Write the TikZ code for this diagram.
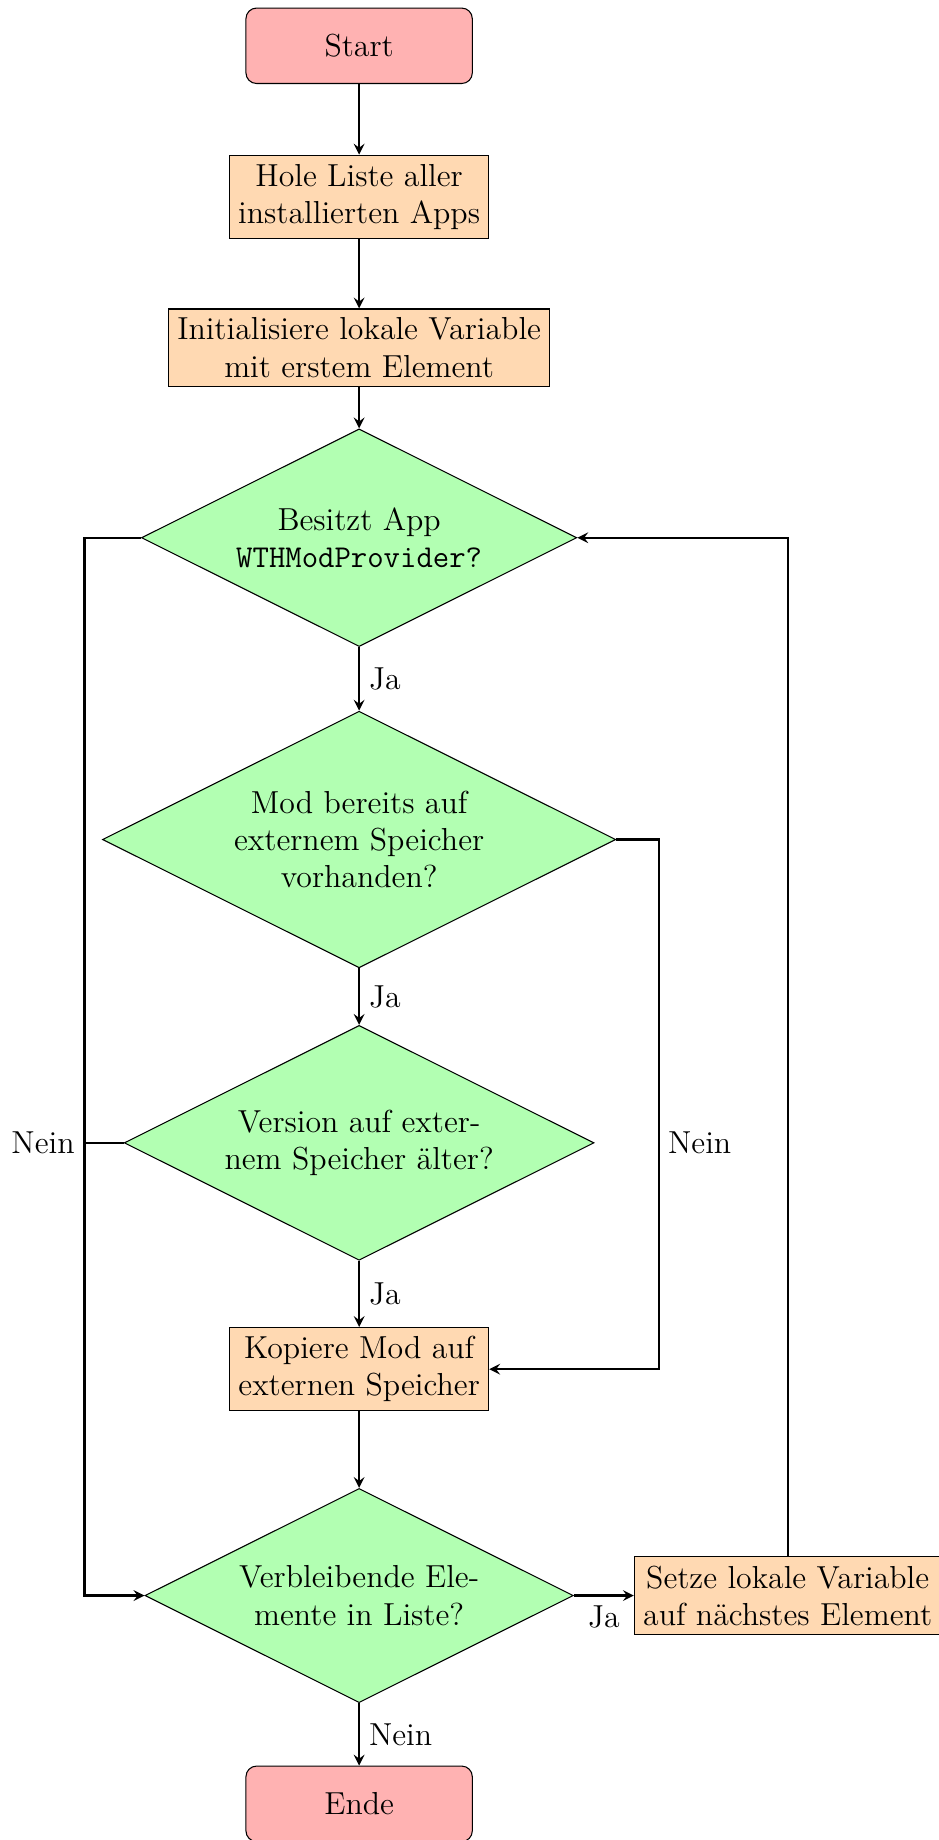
\documentclass[tikz,border=0pt]{standalone}
\usetikzlibrary{shapes.geometric,arrows,positioning,calc}

\tikzset{
  startstop/.style={rectangle, rounded corners, minimum width=3cm, minimum height=1cm, text centered, draw=black, fill=red!30},
  process/.style={rectangle, align=center, draw=black, fill=orange!30},
  decision/.style={diamond, aspect=2, inner sep=4.35pt, align=center, draw=black, fill=green!30},
  arrow/.style={thick,->,>=stealth}
}

\begin{document}
\begin{tikzpicture}[node distance=2cm, font=\large]
  \useasboundingbox (-4.76,0.607) rectangle (7.68,-23.78);
  \node (start) [startstop] {Start};
  \node (liste) [process, below of=start] {Hole Liste aller\\installierten Apps};
  \node (init) [process, below of=liste] {Initialisiere lokale Variable\\mit erstem Element};
  \node (provider) [decision, below of=init, node distance=2.52cm] {Besitzt App\\\texttt{WTHModProvider?}};
  \node (vorhanden) [decision, below of=provider, node distance=4cm] {Mod bereits auf\\externem Speicher\\vorhanden?};
  \node (aelter) [decision, below of=vorhanden, node distance=4.02cm] {Version auf exter-\\nem Speicher älter?};
  \node (kopiere) [process, below of=aelter, node distance=3cm] {Kopiere Mod auf\\externen Speicher};
  \node (rest) [decision, below of=kopiere, node distance=3cm] {Verbleibende Ele-\\mente in Liste?};
  \node (ende) [startstop, below of=rest, node distance=2.76cm] {Ende};
  \node (naechstes) [process, right of=rest, node distance=5.68cm] {Setze lokale Variable\\auf nächstes Element};

  \coordinate (links) at (-3.64,0);
  \coordinate (rechts) at (3.97,0);

  \draw [arrow] (start) -- (liste);
  \draw [arrow] (liste) -- (init);
  \draw [arrow] (init) -- (provider);
  \draw [arrow] (provider) -- node[right] (ja1) {Ja} (vorhanden);
  \draw [arrow] (vorhanden) -- node[right] (ja2) {Ja} (aelter);
  \draw [arrow] (aelter) -- node[right] (ja3) {Ja} (kopiere);
  \draw [arrow] (kopiere) -- (rest);
  \draw [arrow] (rest) -- node[right] (nein1) {Nein} (ende);
  \draw [arrow] (rest) -- node[below] (ja4) {Ja} (naechstes);
  \draw [arrow] (naechstes) |- (provider);
  % Nein-Zweige
  \draw [arrow] (provider.west) -- (provider.west -| links) -- (rest.west -| links) -- (rest.west);
  \draw [thick] (aelter.west) -- (aelter.west -| links) node[left] (nein2) {Nein};
  \draw [arrow] (vorhanden.east) -- (vorhanden.east -| rechts) -- (kopiere.east -| rechts) -- (kopiere.east);
  \node (nein3) [right] at (aelter -| rechts) {Nein};
\end{tikzpicture}
\end{document}
